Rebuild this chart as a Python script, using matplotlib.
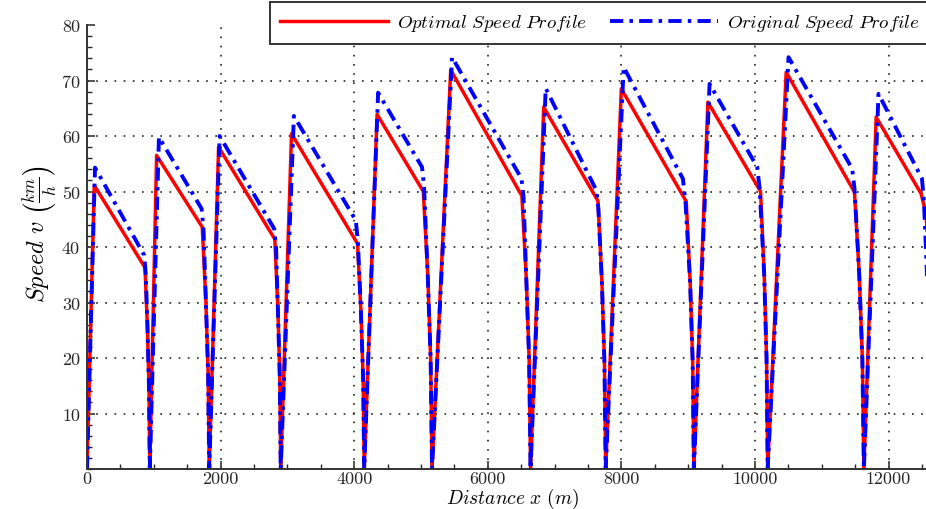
import matplotlib
matplotlib.use("Agg")
from matplotlib import pyplot as plt
from matplotlib.ticker import MultipleLocator

plt.rcParams['font.family'] = 'serif'
plt.rcParams['font.serif'] = ['cmr10']
plt.rcParams['mathtext.fontset'] = 'cm'
plt.rcParams['axes.formatter.use_mathtext'] = True

# optimal speed profile (red), distance in m, speed in km/h
opt_x = [0, 109, 868, 905, 928, 940,
         1042, 1725, 1779, 1813, 1830,
         1970, 2812, 2857, 2886, 2900,
         3062, 4050, 4101, 4134, 4150,
         4343, 5035, 5101, 5144, 5165,
         5445, 6510, 6576, 6619, 6640,
         6837, 7649, 7708, 7746, 7765,
         7999, 8971, 9029, 9067, 9085,
         9295, 10083, 10138, 10173, 10190,
         10467, 11489, 11561, 11607, 11630,
         11814, 12487, 12560, 12640]
opt_v = [0, 51.1, 36.3, 25.4, 14.5, 0,
         56.5, 43.6, 30.5, 17.4, 0,
         58.0, 41.4, 29.0, 16.6, 0,
         60.4, 40.6, 28.4, 16.2, 0,
         63.9, 50.0, 35.0, 20.0, 0,
         71.9, 49.2, 34.4, 19.7, 0,
         65.2, 48.3, 33.8, 19.3, 0,
         68.5, 48.2, 33.7, 19.3, 0,
         66.1, 50.0, 35.0, 20.0, 0,
         71.5, 49.9, 35.0, 20.0, 0,
         63.4, 49.6, 46.0, 30.0]

# original speed profile (blue)
orig_x = [0, 120, 857, 880, 905, 928, 940,
          1077, 1716, 1745, 1779, 1813, 1830,
          1985, 2802, 2830, 2857, 2886, 2900,
          3097, 4024, 4055, 4101, 4134, 4150,
          4358, 5015, 5045, 5101, 5144, 5165,
          5465, 6505, 6535, 6576, 6619, 6640,
          6867, 7625, 7655, 7708, 7746, 7765,
          8034, 8921, 8960, 9029, 9067, 9085,
          9320, 10033, 10070, 10138, 10173, 10190,
          10502, 11455, 11490, 11561, 11607, 11630,
          11849, 12500, 12530, 12565, 12620]
orig_v = [0, 54.3, 38.5, 35.0, 26.0, 14.5, 0,
          59.8, 46.9, 43.0, 30.5, 17.4, 0,
          60.0, 43.3, 40.0, 29.0, 16.6, 0,
          63.6, 44.8, 41.0, 28.4, 16.2, 0,
          67.8, 54.4, 51.0, 35.0, 20.0, 0,
          74.2, 52.3, 49.0, 34.4, 19.7, 0,
          68.6, 50.2, 47.0, 33.8, 19.3, 0,
          72.4, 52.3, 48.0, 33.7, 19.3, 0,
          69.4, 54.4, 50.5, 35.0, 20.0, 0,
          74.2, 54.1, 50.5, 35.0, 20.0, 0,
          67.6, 52.3, 48.0, 38.0, 20.0]

fig = plt.figure(figsize=(9.26, 5.10), dpi=100)
ax = fig.add_axes([87 / 926, 40 / 510, 839 / 926, 444 / 510])

ax.plot(opt_x, opt_v, color='#ff0000', lw=2.5, label=r'$Optimal\ Speed\ Profile$')
ax.plot(orig_x, orig_v, color='#0000ff', lw=2.8, dashes=(3.4, 1.6, 0.9, 1.6),
        label=r'$Original\ Speed\ Profile$')

ax.set_xlim(0, 12560)
ax.set_ylim(0, 80)
ax.xaxis.set_major_locator(MultipleLocator(2000))
ax.xaxis.set_minor_locator(MultipleLocator(500))
ax.yaxis.set_minor_locator(MultipleLocator(2))
ax.set_yticks(range(10, 90, 10))
ax.xaxis.set_major_formatter(plt.FuncFormatter(lambda v, p: '%d' % v))
ax.yaxis.set_major_formatter(plt.FuncFormatter(lambda v, p: '%d' % v))

ax.tick_params(which='both', direction='in', labelsize=13, colors='#262626')
ax.tick_params(which='major', length=6, width=1.1)
ax.tick_params(which='minor', length=3.5, width=1.0)
ax.tick_params(axis='x', pad=1)
ax.tick_params(axis='y', pad=5)

for s in ['top', 'right']:
    ax.spines[s].set_visible(False)
for s in ['left', 'bottom']:
    ax.spines[s].set_linewidth(1.4)
    ax.spines[s].set_color('#333333')

ax.grid(True, which='major', color='#222222', linestyle=(0, (1, 4.5)), linewidth=1.2)
ax.yaxis.get_gridlines()[-1].set_visible(False)

ax.set_xlabel(r'$Distance\ x\ (m)$', fontsize=14)
ax.set_ylabel(r'$Speed\ v\ \left(\frac{km}{h}\right)$', fontsize=17.5)
ax.yaxis.set_label_coords(-0.033, 0.53)
ax.xaxis.set_label_coords(0.507, -0.039)

leg = fig.legend(loc='upper left', bbox_to_anchor=(270 / 926, 1 - 3 / 510), ncol=2,
                 fontsize=13.6, handlelength=5.7, handletextpad=0.48, columnspacing=1.2,
                 fancybox=False, framealpha=1, borderpad=0.55, borderaxespad=0)
leg.get_frame().set_edgecolor('#333333')
leg.get_frame().set_linewidth(1.4)

plt.savefig("out.png", dpi=100)
